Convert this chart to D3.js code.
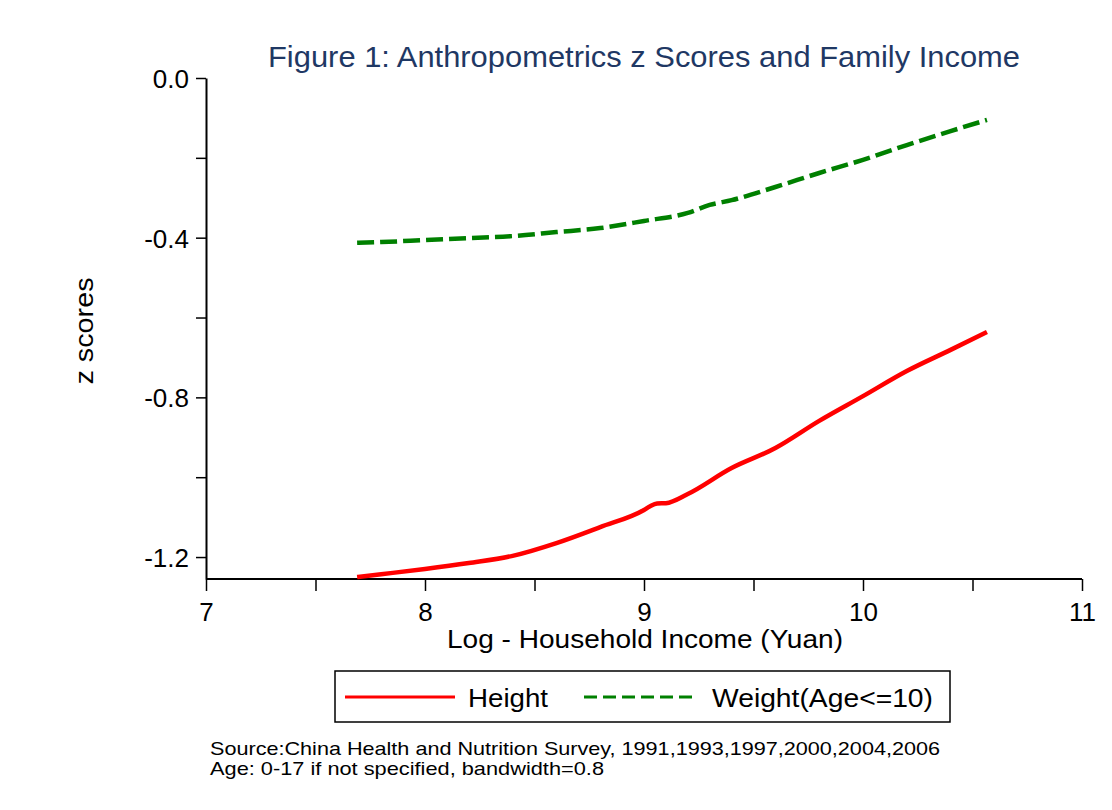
<!DOCTYPE html>
<html>
<head>
<meta charset="utf-8">
<script src="https://cdn.jsdelivr.net/npm/d3@7"></script>
<style>
  body { margin: 0; background: #fff; }
  svg text { font-family: "Liberation Sans", Arial, sans-serif; }
</style>
</head>
<body>
<div id="chart"></div>
<script>
// log household income (x) and smoothed z scores
const heightX = [7.69, 7.8, 8.0, 8.2, 8.4, 8.6, 8.8, 9.0, 9.03, 9.06, 9.1, 9.2, 9.4, 9.6, 9.8, 10.0, 10.2, 10.4, 10.566];
const heightZ = [-1.25, -1.243, -1.23, -1.215, -1.197, -1.165, -1.125, -1.082, -1.072, -1.066, -1.065, -1.042, -0.977, -0.927, -0.859, -0.797, -0.734, -0.681, -0.636];
const weightX = [7.69, 7.8, 8.0, 8.2, 8.4, 8.6, 8.8, 9.0, 9.2, 9.3, 9.4, 9.6, 9.8, 10.0, 10.2, 10.4, 10.566];
const weightZ = [-0.413, -0.411, -0.406, -0.401, -0.396, -0.386, -0.376, -0.358, -0.338, -0.318, -0.306, -0.273, -0.238, -0.205, -0.168, -0.133, -0.105];

const xTicks = [7, 8, 9, 10, 11];
const xMinor = [7.5, 8.5, 9.5, 10.5];
const yTicks = [0, -0.4, -0.8, -1.2];
const yMinor = [-0.2, -0.6, -1.0];

const w = 1112, h = 810;
const svg = d3.select("#chart").append("svg").attr("width", w).attr("height", h);

const x = d3.scaleLinear().domain([7, 11]).range([206, 1082]);
const y = d3.scaleLinear().domain([-1.255, 0]).range([579, 78]);

// text stretched a little wider, like the original export
function label(sel, txt, len) {
  return sel.text(txt).attr("textLength", len).attr("lengthAdjust", "spacingAndGlyphs");
}

label(svg.append("text")
  .attr("x", 644).attr("y", 67)
  .attr("text-anchor", "middle")
  .attr("font-size", 30)
  .attr("fill", "#1f3864"), "Figure 1: Anthropometrics z Scores and Family Income", 752);

// axes
const xAxis = svg.append("g").attr("transform", `translate(0,${y.range()[0]})`)
  .call(d3.axisBottom(x).tickValues(xTicks.concat(xMinor)).tickSize(12)
    .tickFormat(d => xTicks.includes(d) ? d3.format("d")(d) : "").tickSizeOuter(0));
const yAxis = svg.append("g").attr("transform", `translate(${x.range()[0]},0)`)
  .call(d3.axisLeft(y).tickValues(yTicks.concat(yMinor)).tickSize(10)
    .tickFormat(d => yTicks.includes(d) ? d3.format(".1f")(d).replace("−", "-") : "").tickSizeOuter(0));

[xAxis, yAxis].forEach(g => {
  g.select(".domain").attr("stroke", "#000").attr("stroke-width", 2);
  g.selectAll(".tick line").attr("stroke", "#000").attr("stroke-width", 1.5);
  g.selectAll(".tick text").attr("font-size", 26).attr("fill", "#000")
    .attr("font-family", "Liberation Sans, Arial, sans-serif");
});
xAxis.selectAll(".tick text").attr("dy", "1.05em");
yAxis.selectAll(".tick text").attr("dy", "0.36em").attr("x", -17);
xAxis.select(".domain").attr("d", `M${x.range()[0]},0H${x.range()[1]}`);

label(svg.append("text")
  .attr("x", 645).attr("y", 648)
  .attr("text-anchor", "middle")
  .attr("font-size", 25.5), "Log - Household Income (Yuan)", 396);

label(svg.append("text")
  .attr("transform", "translate(93,331) rotate(-90)")
  .attr("text-anchor", "middle")
  .attr("font-size", 26), "z scores", 107);

const line = d3.line().x(d => x(d[0])).y(d => y(d[1])).curve(d3.curveMonotoneX);

svg.append("path")
  .datum(heightX.map((v, i) => [v, heightZ[i]]))
  .attr("d", line)
  .attr("fill", "none")
  .attr("stroke", "#ff0000")
  .attr("stroke-width", 4.5);

svg.append("path")
  .datum(weightX.map((v, i) => [v, weightZ[i]]))
  .attr("d", line)
  .attr("fill", "none")
  .attr("stroke", "#008000")
  .attr("stroke-width", 4.5)
  .attr("stroke-dasharray", "17,6");

// legend
const lg = svg.append("g");
lg.append("rect")
  .attr("x", 335).attr("y", 671).attr("width", 615).attr("height", 51)
  .attr("fill", "none").attr("stroke", "#000").attr("stroke-width", 1.5);
lg.append("line").attr("x1", 345).attr("x2", 455).attr("y1", 697).attr("y2", 697)
  .attr("stroke", "#ff0000").attr("stroke-width", 3);
label(lg.append("text").attr("x", 468).attr("y", 707).attr("font-size", 26), "Height", 80);
lg.append("line").attr("x1", 584).attr("x2", 697).attr("y1", 697).attr("y2", 697)
  .attr("stroke", "#008000").attr("stroke-width", 3).attr("stroke-dasharray", "13,6");
label(lg.append("text").attr("x", 712).attr("y", 707).attr("font-size", 26), "Weight(Age<=10)", 221);

label(svg.append("text").attr("x", 210).attr("y", 755).attr("font-size", 19),
  "Source:China Health and Nutrition Survey, 1991,1993,1997,2000,2004,2006", 730);
label(svg.append("text").attr("x", 210).attr("y", 775).attr("font-size", 19),
  "Age: 0-17 if not specified, bandwidth=0.8", 394);
</script>
</body>
</html>
